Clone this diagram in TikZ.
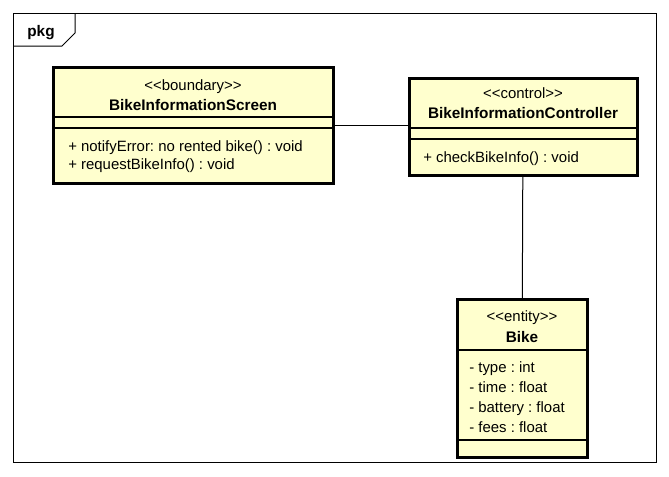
\documentclass[tikz,border=0pt]{standalone}
\usepackage{fontspec}
\setmainfont{Liberation Sans}
\usepackage{xcolor}
\usetikzlibrary{positioning}

\definecolor{classfill}{RGB}{255,255,206}

\tikzset{
    classbox/.style={rectangle, draw, line width=2.25pt, fill=classfill, inner sep=0pt, outer sep=0pt},
    stereo/.style={inner sep=0pt, text height=11pt, text depth=2.4pt, font=\fontsize{11.2}{13}\selectfont},
    cname/.style={inner sep=0pt, text height=11pt, text depth=2.4pt, font=\fontsize{11.5}{13}\selectfont\bfseries},
    member/.style={inner sep=0pt, anchor=west, text height=11pt, text depth=2.4pt, font=\fontsize{11.2}{13}\selectfont},
    sepline/.style={line width=0.9pt},
    assoc/.style={line width=0.75pt}
}

\begin{document}
\frenchspacing
\begin{tikzpicture}[x=0.75pt, y=-0.75pt]
        \useasboundingbox (0,0) rectangle (669,476);

        % Package frame
        \node [rectangle, draw, line width=0.75pt, minimum width=482.25pt, minimum height=336.75pt, inner sep=0pt] (pkgframe) at (334.5,237.5) {};
        \draw [line width=0.75pt] (13,46) -- (62,46) -- (75,33) -- (75,13);
        \node [cname] (pkgname) at (41,31) {pkg};

        % Classes
        \node [classbox, minimum width=210pt, minimum height=87pt] (screen) at (193,125) {};
        \node [classbox, minimum width=171pt, minimum height=72.75pt] (controller) at (523,126.5) {};
        \node [classbox, minimum width=97.5pt, minimum height=118.5pt] (bike) at (522,378) {};

        % Compartments
        \draw [sepline] (screen.west |- 0,117) -- (screen.east |- 0,117);
        \draw [sepline] (screen.west |- 0,128) -- (screen.east |- 0,128);
        \draw [sepline] (controller.west |- 0,128) -- (controller.east |- 0,128);
        \draw [sepline] (controller.west |- 0,139) -- (controller.east |- 0,139);
        \draw [sepline] (bike.west |- 0,350) -- (bike.east |- 0,350);
        \draw [sepline] (bike.west |- 0,440) -- (bike.east |- 0,440);

        % Texts
        \node [stereo] (screenst) at (193,85) {<{}<boundary>{}>};
        \node [cname] (screenname) at (193,105) {BikeInformationScreen};
        \node [member] (screenm1) at (68,146) {+ notifyError: no rented bike() : void};
        \node [member] (screenm2) at (68,164) {+ requestBikeInfo() : void};

        \node [stereo] (controllerst) at (523,93) {<{}<control>{}>};
        \node [cname] (controllername) at (523,113) {BikeInformationController};
        \node [member] (controllerm1) at (423,157) {+ checkBikeInfo() : void};

        \node [stereo] (bikest) at (522,316) {<{}<entity>{}>};
        \node [cname] (bikename) at (522,337) {Bike};
        \node [member] (bikea1) at (469,367) {- type : int};
        \node [member] (bikea2) at (469,387) {- time : float};
        \node [member] (bikea3) at (469,407) {- battery : float};
        \node [member] (bikea4) at (469,427) {- fees : float};

        % Associations
        \draw [assoc] (screen.east) -- (screen.east -| controller.west);
        \draw [assoc] (controller) -- (bike);
    \end{tikzpicture}
\end{document}
